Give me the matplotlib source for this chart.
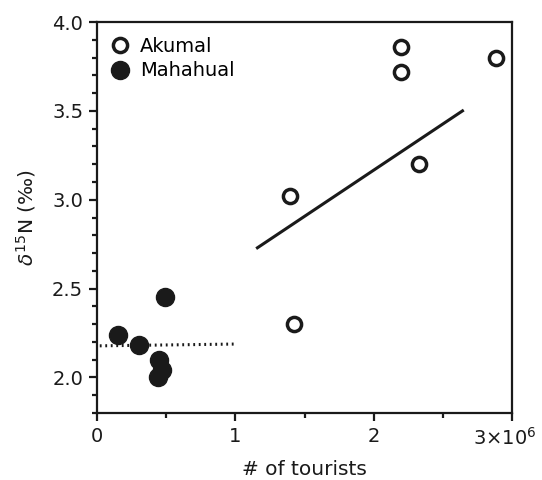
import numpy as np
import matplotlib
matplotlib.use('Agg')
import matplotlib.pyplot as plt
from matplotlib.ticker import MultipleLocator, FuncFormatter
from matplotlib.transforms import ScaledTranslation

# Akumal (open circles)
akumal_x = [2.20e6, 2.20e6, 2.885e6, 2.33e6, 1.395e6, 1.425e6]
akumal_y = [3.86, 3.72, 3.80, 3.20, 3.02, 2.30]

# Mahahual (filled circles)
mahahual_x = [0.15e6, 0.30e6, 0.49e6, 0.45e6, 0.47e6, 0.44e6]
mahahual_y = [2.24, 2.18, 2.45, 2.10, 2.04, 2.00]

# fitted lines
akumal_fit_x = [1.15e6, 2.65e6]
akumal_fit_y = [2.725, 3.505]
mahahual_fit_x = [0.02e6, 1.0e6]
mahahual_fit_y = [2.178, 2.188]

ink = '#1a1a1a'
plt.rcParams['font.family'] = 'DejaVu Sans'

fig = plt.figure(figsize=(5.42, 4.80), dpi=100)
ax = fig.add_axes([0.179, 0.1396, 0.766, 0.8144])

ax.plot(akumal_fit_x, akumal_fit_y, color=ink, lw=2.2, solid_capstyle='butt')
ax.plot(mahahual_fit_x, mahahual_fit_y, color=ink, lw=2.2, linestyle=(0, (0.6, 1.2)))

ax.plot(mahahual_x, mahahual_y, 'o', ms=13, color=ink, mec=ink, label='Mahahual', zorder=3)
ax.plot(akumal_x, akumal_y, 'o', ms=10.2, mfc='white', mec=ink, mew=2.5, label='Akumal', zorder=3)

ax.set_xlim(0, 3e6)
ax.set_ylim(1.8, 4.0)
ax.xaxis.set_major_locator(MultipleLocator(1e6))
ax.xaxis.set_minor_locator(MultipleLocator(0.5e6))
ax.yaxis.set_major_locator(MultipleLocator(0.5))
ax.yaxis.set_minor_locator(MultipleLocator(0.1))

def xfmt(v, pos):
    n = int(round(v / 1e6))
    if n == 3:
        return '3×10$^{6}$'
    return str(n)

ax.xaxis.set_major_formatter(FuncFormatter(xfmt))
ax.yaxis.set_major_formatter(FuncFormatter(lambda v, p: f'{v:.1f}'))

for s in ax.spines.values():
    s.set_linewidth(1.6)
    s.set_color(ink)
ax.tick_params(which='major', direction='out', length=6, width=1.6, color=ink,
               labelsize=14, labelcolor=ink, pad=4)
ax.tick_params(which='minor', direction='out', length=3.5, width=1.6, color=ink)

ax.set_xlabel('# of tourists', fontsize=14.5, color=ink, labelpad=8)
ax.set_ylabel(r'$\delta^{15}$N (‰)', fontsize=14.5, color=ink, labelpad=10)

h, l = ax.get_legend_handles_labels()
ax.legend([h[1], h[0]], [l[1], l[0]], loc='upper left', frameon=False, fontsize=14,
          handletextpad=0.55, borderaxespad=0.35, labelspacing=0.3, handlelength=0.9)

# nudge the 3x10^6 label left so it stays inside the figure
fig.canvas.draw()
for t in ax.xaxis.get_major_ticks():
    if abs(t.get_loc() - 3e6) < 1:
        lab = t.label1
        lab.set_transform(lab.get_transform() + ScaledTranslation(-7 / 100, 0, fig.dpi_scale_trans))

fig.savefig('out.png', dpi=100)
